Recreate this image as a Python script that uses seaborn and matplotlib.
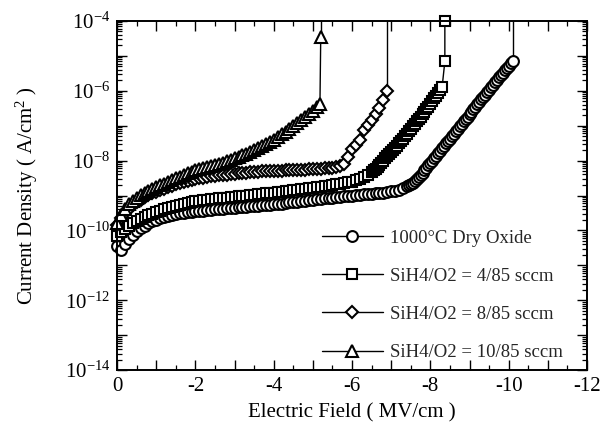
import numpy as np
import pandas as pd
import matplotlib
matplotlib.use("Agg")
import matplotlib.pyplot as plt
import seaborn as sns
from matplotlib.ticker import LogLocator, MultipleLocator, FuncFormatter, NullFormatter

sns.set_theme(style="ticks")
plt.rcParams["font.family"] = ["Liberation Serif", "DejaVu Serif"]
plt.rcParams["mathtext.fontset"] = "custom"
plt.rcParams["mathtext.rm"] = "Liberation Serif"
plt.rcParams["mathtext.it"] = "Liberation Serif:italic"
plt.rcParams["axes.unicode_minus"] = False

# ---- measured J-E sweeps (field in MV/cm, log10 of current density in A/cm^2) ----
labels = ["1000\u00b0C Dry Oxide",
          "SiH4/O2 = 4/85 sccm",
          "SiH4/O2 = 8/85 sccm",
          "SiH4/O2 = 10/85 sccm"]

field_dry = [0.0, -0.1, -0.2, -0.3, -0.4, -0.5, -0.6, -0.7, -0.8, -0.9,
             -1.0, -1.1, -1.2, -1.3, -1.4, -1.5, -1.6, -1.7, -1.8, -1.9,
             -2.0, -2.1, -2.2, -2.3, -2.4, -2.5, -2.6, -2.7, -2.8, -2.9,
             -3.0, -3.1, -3.2, -3.3, -3.4, -3.5, -3.6, -3.7, -3.8, -3.9,
             -4.0, -4.1, -4.2, -4.3, -4.4, -4.5, -4.6, -4.7, -4.8, -4.9,
             -5.0, -5.1, -5.2, -5.3, -5.4, -5.5, -5.6, -5.7, -5.8, -5.9,
             -6.0, -6.1, -6.2, -6.3, -6.4, -6.5, -6.6, -6.7, -6.8, -6.9,
             -7.0, -7.1, -7.2, -7.3, -7.4, -7.45, -7.5, -7.55, -7.6, -7.65,
             -7.7, -7.75, -7.8, -7.85, -7.9, -7.95, -8.0, -8.05, -8.1, -8.15,
             -8.2, -8.25, -8.3, -8.35, -8.4, -8.45, -8.5, -8.55, -8.6, -8.65,
             -8.7, -8.75, -8.8, -8.85, -8.9, -8.95, -9.0, -9.05, -9.1, -9.15,
             -9.2, -9.25, -9.3, -9.35, -9.4, -9.45, -9.5, -9.55, -9.6, -9.65,
             -9.7, -9.75, -9.8, -9.85, -9.9, -9.95, -10.0, -10.05, -10.1]
logj_dry = [-10.45, -10.55, -10.38, -10.25, -10.12, -10.02, -9.94, -9.87, -9.80, -9.74,
            -9.69, -9.65, -9.61, -9.58, -9.55, -9.53, -9.51, -9.49, -9.48, -9.46,
            -9.45, -9.44, -9.43, -9.42, -9.41, -9.40, -9.39, -9.38, -9.37, -9.36,
            -9.35, -9.34, -9.33, -9.32, -9.31, -9.30, -9.29, -9.28, -9.27, -9.26,
            -9.25, -9.24, -9.23, -9.21, -9.20, -9.19, -9.18, -9.16, -9.15, -9.13,
            -9.12, -9.11, -9.10, -9.08, -9.07, -9.06, -9.05, -9.04, -9.02, -9.01,
            -9.00, -8.99, -8.98, -8.97, -8.96, -8.95, -8.94, -8.93, -8.92, -8.90,
            -8.88, -8.86, -8.83, -8.79, -8.74, -8.71, -8.67, -8.63, -8.58, -8.53,
            -8.47, -8.41, -8.35, -8.28, -8.21, -8.14, -8.07, -8.00, -7.93, -7.86,
            -7.79, -7.72, -7.65, -7.58, -7.51, -7.44, -7.37, -7.30, -7.23, -7.16,
            -7.09, -7.02, -6.95, -6.88, -6.81, -6.74, -6.67, -6.60, -6.53, -6.46,
            -6.39, -6.32, -6.25, -6.18, -6.11, -6.04, -5.97, -5.90, -5.83, -5.76,
            -5.69, -5.62, -5.56, -5.49, -5.42, -5.36, -5.29, -5.22, -5.16]

field_4 = [0.0, -0.1, -0.2, -0.3, -0.4, -0.5, -0.6, -0.7, -0.8, -0.9,
           -1.0, -1.1, -1.2, -1.3, -1.4, -1.5, -1.6, -1.7, -1.8, -1.9,
           -2.0, -2.1, -2.2, -2.3, -2.4, -2.5, -2.6, -2.7, -2.8, -2.9,
           -3.0, -3.1, -3.2, -3.3, -3.4, -3.5, -3.6, -3.7, -3.8, -3.9,
           -4.0, -4.1, -4.2, -4.3, -4.4, -4.5, -4.6, -4.7, -4.8, -4.9,
           -5.0, -5.1, -5.2, -5.3, -5.4, -5.5, -5.6, -5.7, -5.8, -5.9,
           -6.0, -6.1, -6.2, -6.3, -6.4, -6.5, -6.55, -6.6, -6.65, -6.7,
           -6.75, -6.8, -6.85, -6.9, -6.95, -7.0, -7.05, -7.1, -7.15, -7.2,
           -7.25, -7.3, -7.35, -7.4, -7.45, -7.5, -7.55, -7.6, -7.65, -7.7,
           -7.75, -7.8, -7.85, -7.9, -7.95, -8.0, -8.05, -8.1, -8.15, -8.2,
           -8.25, -8.3, -8.37, -8.37]
logj_4 = [-10.15, -10.05, -9.95, -9.87, -9.80, -9.74, -9.68, -9.62, -9.57, -9.52,
          -9.48, -9.44, -9.40, -9.36, -9.33, -9.30, -9.27, -9.24, -9.21, -9.19,
          -9.17, -9.15, -9.14, -9.12, -9.11, -9.10, -9.08, -9.07, -9.06, -9.04,
          -9.03, -9.02, -9.01, -9.00, -8.99, -8.98, -8.97, -8.96, -8.94, -8.93,
          -8.92, -8.91, -8.89, -8.88, -8.86, -8.85, -8.84, -8.82, -8.81, -8.79,
          -8.78, -8.76, -8.75, -8.73, -8.72, -8.70, -8.68, -8.66, -8.64, -8.62,
          -8.60, -8.56, -8.52, -8.46, -8.40, -8.32, -8.28, -8.23, -8.18, -8.12,
          -8.06, -8.00, -7.94, -7.88, -7.82, -7.76, -7.70, -7.63, -7.57, -7.50,
          -7.44, -7.37, -7.30, -7.23, -7.16, -7.09, -7.02, -6.95, -6.88, -6.81,
          -6.74, -6.67, -6.60, -6.53, -6.46, -6.38, -6.30, -6.22, -6.15, -6.07,
          -5.99, -5.90, -5.16, -4.00]

field_8 = [0.0, -0.1, -0.2, -0.3, -0.4, -0.5, -0.6, -0.7, -0.8, -0.9,
           -1.0, -1.1, -1.2, -1.3, -1.4, -1.5, -1.6, -1.7, -1.8, -1.9,
           -2.0, -2.1, -2.2, -2.3, -2.4, -2.5, -2.6, -2.7, -2.8, -2.9,
           -3.0, -3.1, -3.2, -3.3, -3.4, -3.5, -3.6, -3.7, -3.8, -3.9,
           -4.0, -4.1, -4.2, -4.3, -4.4, -4.5, -4.6, -4.7, -4.8, -4.9,
           -5.0, -5.1, -5.2, -5.3, -5.4, -5.5, -5.6, -5.7, -5.8, -5.9,
           -6.0, -6.1, -6.2, -6.3, -6.4, -6.5, -6.6, -6.7, -6.8, -6.89]
logj_8 = [-9.85, -9.65, -9.50, -9.38, -9.28, -9.20, -9.12, -9.05, -8.99, -8.94,
          -8.90, -8.85, -8.80, -8.76, -8.72, -8.68, -8.65, -8.62, -8.59, -8.56,
          -8.53, -8.51, -8.49, -8.47, -8.45, -8.43, -8.42, -8.41, -8.40, -8.39,
          -8.38, -8.37, -8.36, -8.35, -8.34, -8.33, -8.32, -8.31, -8.31, -8.30,
          -8.30, -8.29, -8.29, -8.28, -8.28, -8.27, -8.27, -8.26, -8.26, -8.25,
          -8.25, -8.24, -8.23, -8.22, -8.21, -8.20, -8.18, -8.15, -8.10, -7.90,
          -7.68, -7.55, -7.40, -7.12, -6.98, -6.85, -6.68, -6.50, -6.28, -6.00]

field_10 = [0.0, -0.1, -0.2, -0.3, -0.4, -0.5, -0.6, -0.7, -0.8, -0.9,
            -1.0, -1.1, -1.2, -1.3, -1.4, -1.5, -1.6, -1.7, -1.8, -1.9,
            -2.0, -2.1, -2.2, -2.3, -2.4, -2.5, -2.6, -2.7, -2.8, -2.9,
            -3.0, -3.1, -3.2, -3.3, -3.4, -3.5, -3.6, -3.7, -3.8, -3.9,
            -4.0, -4.1, -4.2, -4.3, -4.4, -4.5, -4.6, -4.7, -4.8, -4.9,
            -5.0, -5.1, -5.18, -5.2]
logj_10 = [-9.80, -9.55, -9.38, -9.25, -9.15, -9.06, -8.99, -8.92, -8.86, -8.81,
           -8.76, -8.71, -8.66, -8.61, -8.56, -8.51, -8.46, -8.41, -8.36, -8.32,
           -8.28, -8.24, -8.21, -8.18, -8.15, -8.12, -8.09, -8.06, -8.02, -7.98,
           -7.94, -7.90, -7.85, -7.80, -7.75, -7.70, -7.64, -7.58, -7.52, -7.46,
           -7.40, -7.33, -7.25, -7.17, -7.09, -7.01, -6.93, -6.84, -6.75, -6.66,
           -6.57, -6.47, -6.37, -4.45]

markers = ["o", "s", "D", "^"]
marker_sizes = [7.8, 7.4, 6.2, 8.0]

J_MIN, J_MAX = 1e-14, 1e-4

fig = plt.figure(figsize=(6.07, 4.25), dpi=100)
ax = fig.add_axes([0.193, 0.129, 0.774, 0.822])
ax.set_yscale("log")

series = [(field_dry, logj_dry), (field_4, logj_4), (field_8, logj_8), (field_10, logj_10)]
for (xs, ls), lab, mk, ms in zip(series, labels, markers, marker_sizes):
    df = pd.DataFrame({"field": xs, "J": 10.0 ** np.asarray(ls)})
    # breakdown: current jumps off scale after the last recorded point
    seg = pd.DataFrame({"field": [xs[-1], xs[-1]], "J": [10.0 ** ls[-1], J_MAX]})
    sns.lineplot(data=seg, x="field", y="J", ax=ax, estimator=None, sort=False,
                 color="black", lw=1.0, clip_on=False, legend=False)
    sns.lineplot(data=df, x="field", y="J", ax=ax, estimator=None, sort=False,
                 color="black", lw=1.0, marker=mk, markersize=ms,
                 markerfacecolor="white", markeredgecolor="black",
                 markeredgewidth=1.5, label=lab, clip_on=False)

ax.set_xlim(0, -12)
ax.set_ylim(J_MIN, J_MAX)

ax.xaxis.set_major_locator(MultipleLocator(1))
ax.xaxis.set_minor_locator(MultipleLocator(0.5))
ax.xaxis.set_major_formatter(FuncFormatter(
    lambda v, p: f"{int(round(v))}" if int(round(v)) % 2 == 0 else ""))

ax.yaxis.set_major_locator(LogLocator(base=10, numticks=30))
ax.yaxis.set_minor_locator(LogLocator(base=10, subs=np.arange(2, 10), numticks=30))
ax.yaxis.set_major_formatter(FuncFormatter(
    lambda v, p: rf"$10^{{{int(round(np.log10(v)))}}}$" if int(round(np.log10(v))) % 2 == 0 else ""))
ax.yaxis.set_minor_formatter(NullFormatter())

ax.tick_params(which="both", direction="in", top=True, right=True, color="black",
               labelsize=15, labelcolor="black")
ax.tick_params(which="major", length=7, width=1.0, pad=5)
ax.tick_params(which="minor", length=3.5, width=0.9)
for sp in ax.spines.values():
    sp.set_linewidth(1.4)
    sp.set_color("black")

ax.set_xlabel("Electric Field ( MV/cm )", fontsize=15, labelpad=5, color="black")
ax.set_ylabel("Current Density ( A/cm$^{2}$ )", fontsize=15, labelpad=18, color="black")

handles, labs = ax.get_legend_handles_labels()
ax.legend(handles, labs, loc="center left", bbox_to_anchor=(0.436, 0.214),
          frameon=False, handlelength=3.25, labelspacing=1.12, borderpad=0,
          borderaxespad=0, handletextpad=0.38, fontsize=13.5, numpoints=1)

fig.savefig("out.png", dpi=100)
